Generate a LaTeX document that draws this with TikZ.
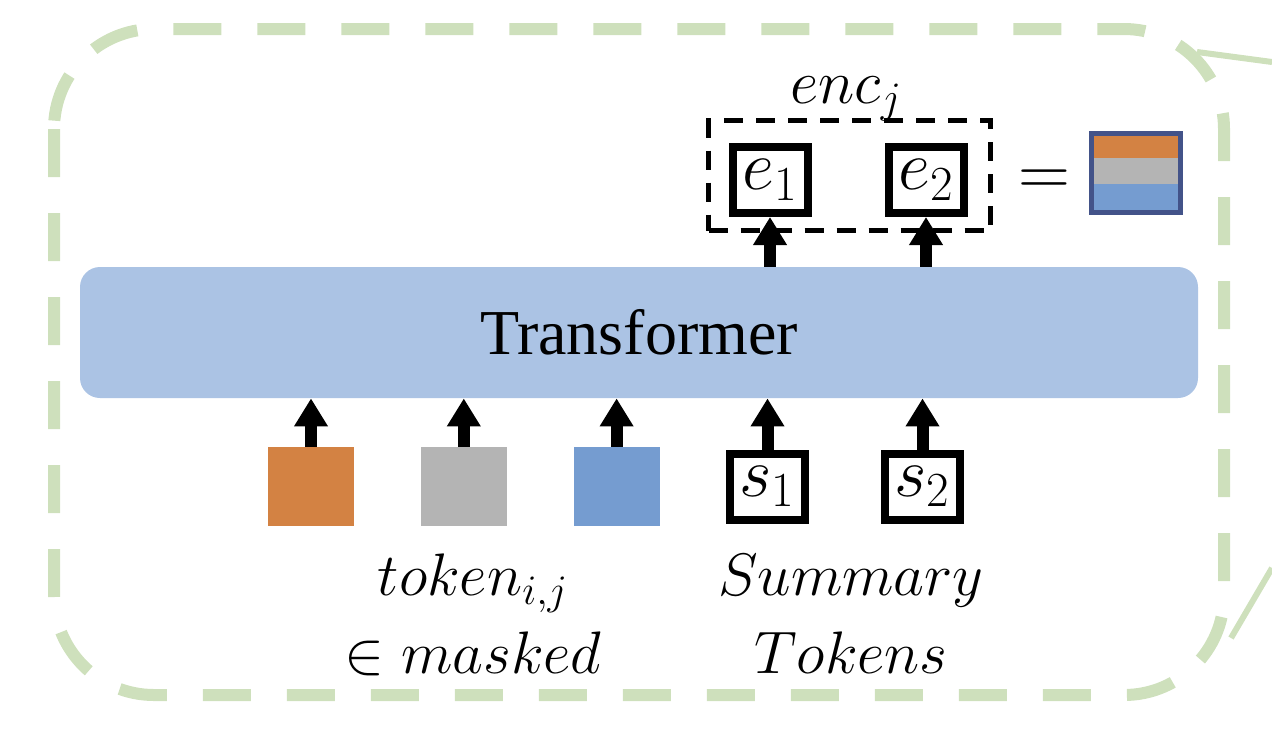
\RequirePackage{fix-cm}
\documentclass[tikz,border=0pt]{standalone}
\usepackage{fontspec}
\setmainfont{Liberation Serif}
\usepackage{amsmath}
\usepackage{tikz}
\usetikzlibrary{arrows.meta, positioning}

\definecolor{frame}{RGB}{206,224,188}
\definecolor{tfblue}{RGB}{171,195,228}
\definecolor{tokorange}{RGB}{211,130,67}
\definecolor{tokgray}{RGB}{180,180,180}
\definecolor{tokblue}{RGB}{117,156,208}
\definecolor{legblue}{RGB}{67,83,137}

\begin{document}
\begin{tikzpicture}[x=0.5pt, y=-0.5pt, >={Triangle[width=16pt, length=14pt]}, node distance=33pt,
  tok/.style={minimum width=43pt, minimum height=39.5pt, inner sep=0pt},
  sq/.style={draw, line width=4pt, minimum width=37.5pt, minimum height=33pt, inner sep=0pt, font=\fontsize{35}{38}\selectfont},
  arr/.style={->, line width=6pt},
  lbl/.style={align=center, inner sep=0pt, font=\fontsize{30}{39}\selectfont}]
\useasboundingbox (0,0) rectangle (1272,740);
% outer frame
\draw[frame, line width=6pt, dash pattern=on 24pt off 18pt, rounded corners=50pt] (54,29) rectangle (1224,695);
\coordinate (z1) at (1197,52);
\coordinate (z2) at (1272,62);
\coordinate (z3) at (1231,638);
\coordinate (z4) at (1272,568);
\draw[frame, line width=3pt] (z1) -- (z2);
\draw[frame, line width=3pt] (z3) -- (z4);

\node[fill=tfblue, rounded corners=10pt, minimum width=559pt, minimum height=65.5pt, font=\fontsize{32}{36}\selectfont] (tf) at (639,332.5) {Transformer};

% input tokens
\node[tok, fill=tokorange] (tok1) at (311,486.5) {};
\node[tok, fill=tokgray, right=of tok1] (tok2) {};
\node[tok, fill=tokblue, right=of tok2] (tok3) {};
\node[sq, right=of tok3] (s1) {$s_1$};
\node[sq, right=36pt of s1] (s2) {$s_2$};

% outputs
\node[sq] (e1) at (770,180) {$e_1$};
\node[sq, right=36.5pt of e1] (e2) {$e_2$};
\node[draw, line width=2.5pt, dash pattern=on 9.5pt off 6.5pt, minimum width=141pt, minimum height=55pt] (enc) at (849.5,175.5) {};
\node[anchor=base, font=\fontsize{31}{34}\selectfont] (encl) at (846,103) {$enc_j$};
\node[font=\fontsize{36}{38}\selectfont] (eq) at (1044,183) {$=$};
\fill[tokorange] (1094,136) rectangle (1178,158);
\fill[tokgray] (1094,158) rectangle (1178,184);
\fill[tokblue] (1094,184) rectangle (1178,210);
\node[draw=legblue, line width=2.5pt, minimum width=44.5pt, minimum height=39.5pt, inner sep=0pt] (leg) at (1136,173) {};

\foreach \t in {tok1,tok2,tok3,s1,s2}
  \draw[arr] (\t) -- (\t |- tf.south);
\foreach \t in {e1,e2}
  \draw[arr] (\t |- tf.north) -- (\t);

\node[lbl, anchor=north] (mlbl) at (473,553) {$token_{i,j}$\\$\in masked$};
\node[lbl, anchor=north] (slbl) at (851,554) {$Summary$\\$Tokens$};
\end{tikzpicture}
\end{document}
